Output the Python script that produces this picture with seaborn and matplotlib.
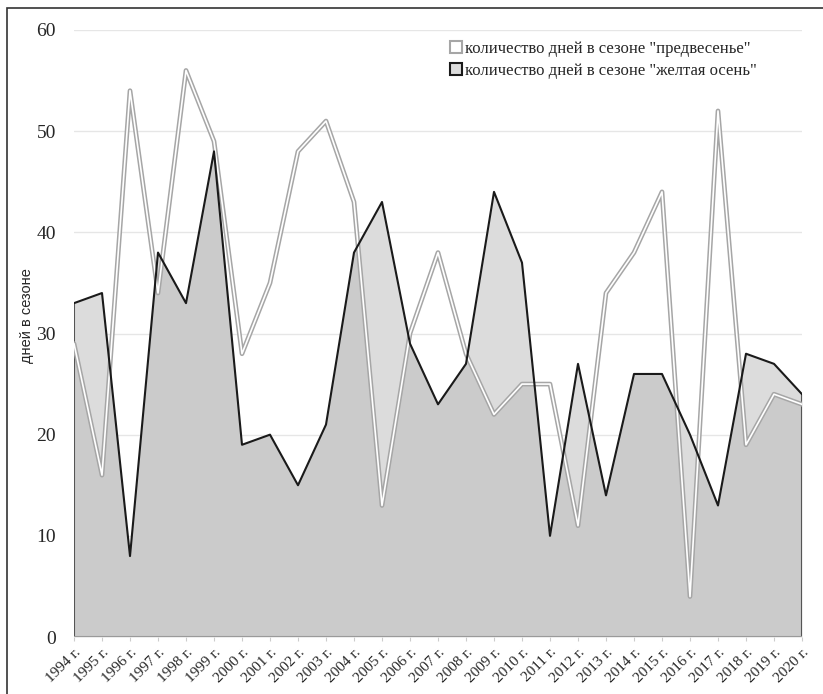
import numpy as np
import pandas as pd
import seaborn as sns
import matplotlib.pyplot as plt
from matplotlib.patches import Patch, Rectangle

# Данные
years = list(range(1994, 2021))
labels = [f"{y} г." for y in years]
predvesenie = [29, 16, 54, 34, 56, 49, 28, 35, 48, 51, 43, 13, 30, 38, 28, 22,
               25, 25, 11, 34, 38, 44, 4, 52, 19, 24, 23]
zheltaya_osen = [33, 34, 8, 38, 33, 48, 19, 20, 15, 21, 38, 43, 29, 23, 27, 44,
                 37, 10, 27, 14, 26, 26, 20, 13, 28, 27, 24]

df = pd.DataFrame({"idx": np.arange(len(years)), "A": predvesenie, "B": zheltaya_osen})

sns.set_style("white")
plt.rcParams["font.family"] = ["Liberation Serif", "DejaVu Serif"]

fig = plt.figure(figsize=(8.23, 6.94), dpi=100)
ax = fig.add_axes([74 / 823, 57 / 694, 728 / 823, 607 / 694])

# заливка "желтая осень" (светлая) и пересечение (темнее)
poly_b = ax.fill_between(df["idx"], 0, df["B"], color="#dcdcdc", lw=0, zorder=1)
poly_a = ax.fill_between(df["idx"], 0, df["A"], color="#cbcbcb", lw=0, zorder=2)
clip = poly_b.get_paths()[0]
poly_a.set_clip_path(clip, transform=ax.transData)

# края области
n = len(years) - 1
ax.plot([0, 0], [0, df["B"].iloc[0]], color="#555555", lw=1.5, zorder=4)
ax.plot([n, n], [0, df["B"].iloc[-1]], color="#555555", lw=1.5, zorder=4)
ax.plot([0, n], [0, 0], color="#9a9a9a", lw=1.5, zorder=4)

# линия "предвесенье" - двойная
sns.lineplot(data=df, x="idx", y="A", color="#a6a6a6", lw=3.4, ax=ax, zorder=5)
sns.lineplot(data=df, x="idx", y="A", color="white", lw=1.2, ax=ax, zorder=6)
# линия "желтая осень"
sns.lineplot(data=df, x="idx", y="B", color="#1a1a1a", lw=1.5, ax=ax, zorder=7)

ax.set_xlim(0, n)
ax.set_ylim(0, 60)
ax.set_yticks(range(0, 61, 10))
ax.yaxis.grid(True, color="#e6e6e6", lw=1)
ax.set_axisbelow(True)
for s in ax.spines.values():
    s.set_visible(False)

ax.set_xticks(df["idx"])
ax.set_xticklabels(labels, rotation=45, ha="right", rotation_mode="anchor", fontsize=11)
ax.tick_params(axis="x", length=3, color="#cccccc", pad=3, bottom=True)
ax.tick_params(axis="y", length=0, labelsize=14, pad=13)

ax.set_xlabel("")
ax.set_ylabel("дней в сезоне", fontsize=10.5, family=["Liberation Sans", "DejaVu Sans"])
ax.yaxis.set_label_coords(-0.055, 0.53)

handles = [
    Patch(facecolor="white", edgecolor="#a6a6a6", lw=1.5),
    Patch(facecolor="#dcdcdc", edgecolor="#1a1a1a", lw=1.5),
]
ax.legend(handles, ['количество дней в сезоне "предвесенье"',
                    'количество дней в сезоне "желтая осень"'],
          loc="upper left", bbox_to_anchor=(0.508, 0.993), frameon=False,
          fontsize=12, handlelength=0.7, handleheight=0.7, handletextpad=0.2,
          labelspacing=0.35, borderaxespad=0)

# рамка вокруг диаграммы
fig.patches.append(Rectangle((7 / 823, -0.1), 1.2, (694 - 8) / 694 + 0.1,
                             transform=fig.transFigure, fill=False,
                             edgecolor="#333333", lw=1.2))

plt.savefig("out.png", dpi=100)
